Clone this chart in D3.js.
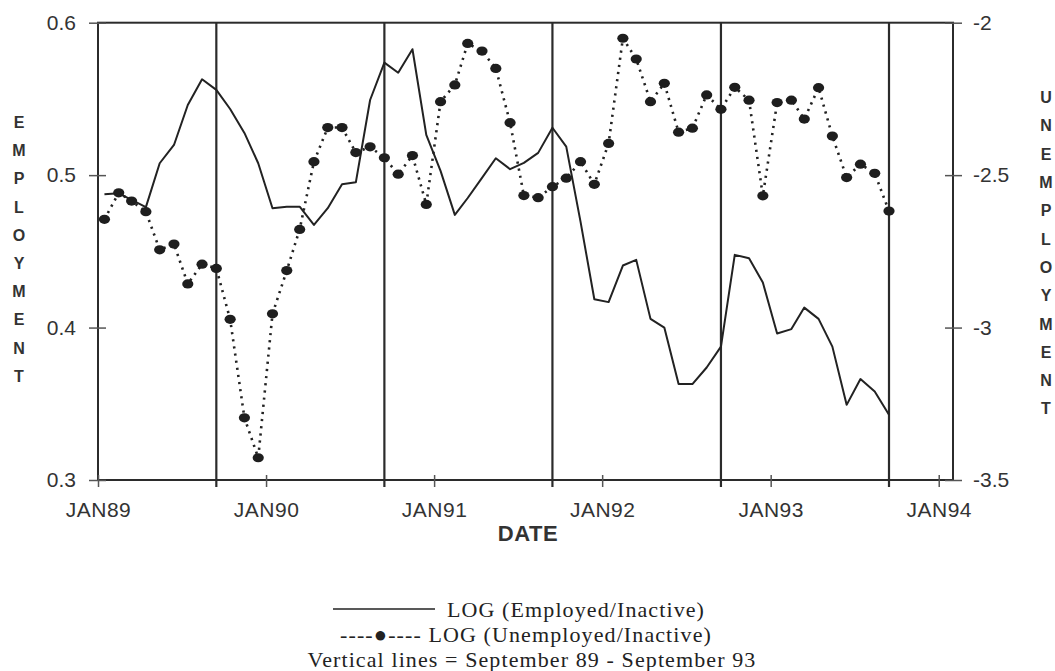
<!DOCTYPE html>
<html>
<head>
<meta charset="utf-8">
<script src="https://cdn.jsdelivr.net/npm/d3@7"></script>
<style>
  html, body { margin: 0; padding: 0; background: #fff; }
  svg { display: block; }
</style>
</head>
<body>
<svg id="chart" width="1055" height="671"></svg>
<script>
// ---------------- DATA ----------------
const startMonth = "1989-01";   // first observation
const employment = [0.4875,0.4881,0.4837,0.479,0.5078,0.5198,0.546,0.5629,0.5559,0.5434,
  0.5277,0.5078,0.4783,0.4792,0.4793,0.4673,0.4783,0.494,0.4953,0.5493,
  0.5738,0.5672,0.5826,0.5264,0.5028,0.4739,0.485,0.4982,0.5111,0.5039,
  0.508,0.5146,0.5311,0.5187,0.4695,0.4186,0.4167,0.4407,0.4444,0.4057,
  0.400,0.3629,0.3629,0.3738,0.3875,0.4477,0.4455,0.4296,0.3961,0.399,
  0.4131,0.4057,0.3875,0.3493,0.3662,0.358,0.3428];
const unemployment = [-2.645,-2.558,-2.585,-2.620,-2.745,-2.726,-2.857,-2.792,-2.806,-2.973,
  -3.296,-3.427,-2.955,-2.813,-2.678,-2.456,-2.344,-2.344,-2.426,-2.407,
  -2.443,-2.497,-2.436,-2.596,-2.259,-2.204,-2.068,-2.093,-2.150,-2.328,
  -2.567,-2.574,-2.538,-2.510,-2.456,-2.530,-2.396,-2.051,-2.119,-2.259,
  -2.199,-2.359,-2.346,-2.237,-2.284,-2.212,-2.254,-2.568,-2.262,-2.254,
  -2.316,-2.213,-2.372,-2.508,-2.464,-2.494,-2.618];
const verticalLineMonths = ["1989-09","1990-09","1991-09","1992-09","1993-09"];
const xTickYears = [1989,1990,1991,1992,1993,1994];
const xTickLabels = ["JAN89","JAN90","JAN91","JAN92","JAN93","JAN94"];
const leftTicks = [0.3,0.4,0.5,0.6];
const leftTickLabels = ["0.3","0.4","0.5","0.6"];
const rightTicks = [-3.5,-3,-2.5,-2];
const rightTickLabels = ["-3.5","-3","-2.5","-2"];
const leftTitle = "EMPLOYMENT";
const rightTitle = "UNEMPLOYMENT";
const xTitle = "DATE";
const legendLabels = ["LOG (Employed/Inactive)", "----\u25CF---- LOG (Unemployed/Inactive)", "Vertical lines = September 89 - September 93"];

// ---------------- LAYOUT ----------------
const L = 98, R = 953, T = 22.7, B = 480;
const ink = "#2b2b2b";
const svg = d3.select("#chart");
svg.append("rect").attr("width",1055).attr("height",671).attr("fill","#fff");

const parseMonth = d3.timeParse("%Y-%m");
const midMonth = s => { const d = parseMonth(s); return new Date(d.getFullYear(), d.getMonth(), 15); };
const start = parseMonth(startMonth);
const dates = employment.map((_, i) => new Date(start.getFullYear(), start.getMonth() + i, 15));

const x = d3.scaleTime().domain([new Date(1989,0,1), new Date(1994,1,1)]).range([L, R]);
const yL = d3.scaleLinear().domain([0.3, 0.6]).range([B, T]);
const yR = d3.scaleLinear().domain([-3.5, -2]).range([B, T]);

// frame
svg.append("rect").attr("x", L).attr("y", T).attr("width", R - L).attr("height", B - T)
  .attr("fill", "none").attr("stroke", ink).attr("stroke-width", 2);

// vertical lines
svg.append("g").selectAll("line").data(verticalLineMonths).join("line")
  .attr("x1", d => x(midMonth(d))).attr("x2", d => x(midMonth(d)))
  .attr("y1", T).attr("y2", B + 7)
  .attr("stroke", ink).attr("stroke-width", 2.2);

const axisFont = "'Liberation Sans', Arial, sans-serif";

// left axis
const gL = svg.append("g").attr("transform", `translate(${L},0)`)
  .call(d3.axisLeft(yL).tickValues(leftTicks).tickFormat((d,i) => leftTickLabels[i]).tickSize(9).tickPadding(22));
gL.select(".domain").remove();
gL.selectAll(".tick line").attr("x1", 8).attr("x2", -9).attr("stroke", "#555").attr("stroke-width", 1.5);
gL.selectAll(".tick text").attr("font-family", axisFont).attr("font-size", 21).attr("fill", "#333").attr("x", -22);

// right axis
const gR = svg.append("g").attr("transform", `translate(${R},0)`)
  .call(d3.axisRight(yR).tickValues(rightTicks).tickFormat((d,i) => rightTickLabels[i]).tickSize(9).tickPadding(20));
gR.select(".domain").remove();
gR.selectAll(".tick line").attr("x1", -8).attr("x2", 9).attr("stroke", "#555").attr("stroke-width", 1.5);
gR.selectAll(".tick text").attr("font-family", axisFont).attr("font-size", 21).attr("fill", "#333").attr("x", 20);

// bottom axis
const gB = svg.append("g").attr("transform", `translate(0,${B})`)
  .call(d3.axisBottom(x).tickValues(xTickYears.map(yv => new Date(yv,0,1))).tickFormat((d,i) => xTickLabels[i]).tickSize(7));
gB.select(".domain").remove();
gB.selectAll(".tick line").attr("y1", -5).attr("y2", 7).attr("stroke", "#555").attr("stroke-width", 1.5);
gB.selectAll(".tick text").attr("font-family", axisFont).attr("font-size", 21).attr("fill", "#333")
  .attr("y", 29.5).attr("dy", "0.35em").attr("letter-spacing", 0.5);

// axis titles
const titleFont = "'Liberation Sans', Arial, sans-serif";
svg.append("g").selectAll("text").data(leftTitle.split("")).join("text")
  .attr("x", 19).attr("y", (d,i) => 122.3 + i * 28.2).attr("dy", "0.35em")
  .attr("text-anchor", "middle").attr("font-family", titleFont).attr("font-weight", "bold")
  .attr("font-size", 16).attr("fill", "#333").text(d => d);
svg.append("g").selectAll("text").data(rightTitle.split("")).join("text")
  .attr("x", 1046).attr("y", (d,i) => 97.5 + i * 28.3).attr("dy", "0.35em")
  .attr("text-anchor", "middle").attr("font-family", titleFont).attr("font-weight", "bold")
  .attr("font-size", 16).attr("fill", "#333").text(d => d);
svg.append("text").attr("x", 528).attr("y", 541).attr("text-anchor", "middle")
  .attr("font-family", titleFont).attr("font-weight", "bold").attr("font-size", 22)
  .attr("fill", "#333").attr("letter-spacing", 0.5).text(xTitle);

// employment line
svg.append("path").datum(employment)
  .attr("d", d3.line().x((d,i) => x(dates[i])).y(d => yL(d)))
  .attr("fill", "none").attr("stroke", "#222").attr("stroke-width", 2).attr("stroke-linejoin", "round");

// unemployment dotted line + markers
svg.append("path").datum(unemployment)
  .attr("d", d3.line().x((d,i) => x(dates[i])).y(d => yR(d)))
  .attr("fill", "none").attr("stroke", "#222").attr("stroke-width", 2.6).attr("stroke-dasharray", "2.2,5");
svg.append("g").selectAll("ellipse").data(unemployment).join("ellipse")
  .attr("cx", (d,i) => x(dates[i])).attr("cy", d => yR(d))
  .attr("rx", 5.6).attr("ry", 4.6).attr("fill", "#1e1e1e");

// legend
const serif = "'Liberation Serif', 'Times New Roman', serif";
svg.append("line").attr("x1", 333).attr("x2", 435).attr("y1", 609).attr("y2", 609)
  .attr("stroke", "#222").attr("stroke-width", 1.5);
const legendPos = [{x: 447, y: 617, anchor: "start"}, {x: 526, y: 642, anchor: "middle"}, {x: 532, y: 666.5, anchor: "middle"}];
svg.append("g").selectAll("text").data(legendLabels).join("text")
  .attr("x", (d,i) => legendPos[i].x).attr("y", (d,i) => legendPos[i].y)
  .attr("text-anchor", (d,i) => legendPos[i].anchor)
  .attr("font-family", serif).attr("font-size", 22).attr("letter-spacing", 1.1)
  .attr("fill", "#222").text(d => d);
</script>
</body>
</html>
